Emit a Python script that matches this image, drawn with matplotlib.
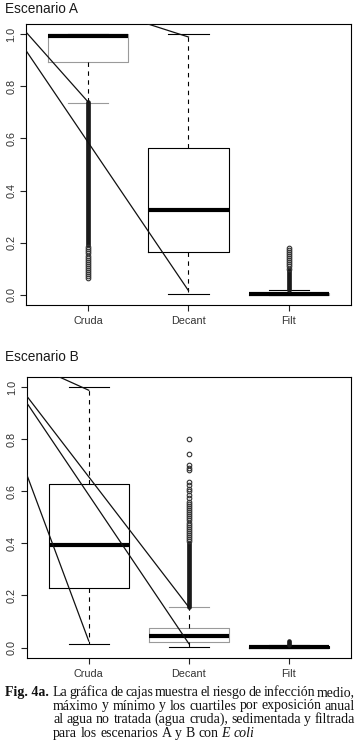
import matplotlib
matplotlib.use("Agg")
import matplotlib.pyplot as plt

W, H = 357, 753

groups = ["Cruda", "Decant", "Filt"]
yticks = [0.0, 0.2, 0.4, 0.6, 0.8, 1.0]

# box stats per scenario: (whislo, q1, med, q3, whishi)
stats_a = [
    (0.735, 0.893, 0.995, 1.0, 1.0),
    (0.003, 0.165, 0.325, 0.565, 1.0),
    (0.0, 0.0, 0.003, 0.006, 0.017),
]
stats_b = [
    (0.015, 0.23, 0.393, 0.627, 1.0),
    (0.003, 0.02, 0.043, 0.077, 0.155),
    (0.0, 0.0, 0.003, 0.006, 0.010),
]

# dense outlier columns (low, high) and sparse outliers
dense_a = [(0.19, 0.74), None, (0.017, 0.095)]
sparse_a = [
    [0.062, 0.07, 0.078, 0.086, 0.094, 0.102, 0.11, 0.118, 0.126, 0.134,
     0.142, 0.15, 0.158, 0.166, 0.174, 0.182],
    [],
    [0.10, 0.108, 0.116, 0.124, 0.132, 0.14, 0.148, 0.156, 0.164, 0.172, 0.18],
]
dense_b = [None, (0.155, 0.40), (0.008, 0.025)]
sparse_b = [
    [],
    [0.408, 0.416, 0.424, 0.432, 0.44, 0.448, 0.456, 0.464, 0.472, 0.48,
     0.488, 0.496, 0.504, 0.512, 0.52, 0.528, 0.536, 0.544, 0.552, 0.56,
     0.575, 0.585, 0.6, 0.61, 0.625, 0.635, 0.68, 0.69, 0.70, 0.745, 0.80],
    [],
]

# gray parts (box edge / lower cap / upper cap)
gray_a = [(True, True, False), (False, False, False), (True, False, False)]
gray_b = [(False, False, False), (True, False, True), (False, False, False)]

# pointer lines drawn over the plots: (x0, y0, x1, y1)
pointers_a = [(0.38, 1.009, 1.0, 0.74), (0.38, 0.938, 2.0, 0.015), (1.596, 1.04, 2.0, 0.99)]
pointers_b = [(0.70, 1.04, 1.0, 0.988), (0.38, 0.966, 2.0, 0.155),
              (0.38, 0.94, 2.0, 0.015), (0.38, 0.665, 1.0, 0.025)]

titles = ["Escenario A", "Escenario B"]

GRAY = "#9a9a9a"

plt.rcParams["font.family"] = ["Liberation Sans", "DejaVu Sans"]
fig = plt.figure(figsize=(W / 100, H / 100), dpi=100)


def px_axes(left, top, right, bottom):
    return fig.add_axes([left / W, 1 - bottom / H, (right - left) / W, (bottom - top) / H])


def draw_panel(ax, stats, dense, sparse, grays, pointers, title, ytitle):
    for i, (lo, q1, med, q3, hi) in enumerate(stats):
        g_box, g_lo, g_hi = grays[i]
        st = dict(whislo=lo, q1=q1, med=med, q3=q3, whishi=hi, fliers=[])
        art = ax.bxp([st], positions=[i + 1], widths=0.8, capwidths=0.4,
                     showfliers=False, patch_artist=False,
                     boxprops=dict(color=GRAY if g_box else "black", lw=0.8),
                     medianprops=dict(color="black", lw=3.0, solid_capstyle="butt"),
                     whiskerprops=dict(color="black", lw=0.8, linestyle=(0, (4, 4))),
                     capprops=dict(color="black", lw=0.8))
        if g_lo:
            art["caps"][0].set_color(GRAY)
        if g_hi:
            art["caps"][1].set_color(GRAY)
        if dense[i] is not None:
            ax.vlines(i + 1, dense[i][0], dense[i][1], colors="#1a1a1a", lw=3.4,
                      capstyle="round", zorder=3)
        if sparse[i]:
            ax.plot([i + 1] * len(sparse[i]), sparse[i], "o", ms=3.3, mfc="none",
                    mec="#333333", mew=0.8, zorder=3)
    for x0, y0, x1, y1 in pointers:
        ax.plot([x0, x1], [y0, y1], color="#111111", lw=0.9, zorder=4)
    ax.set_xlim(0.38, 3.62)
    ax.set_ylim(-0.04, 1.04)
    ax.set_xticks([1, 2, 3], groups)
    ax.set_yticks(yticks, [f"{v:.1f}" for v in yticks])
    for lab in ax.get_yticklabels():
        lab.set_rotation(90)
        lab.set_va("center")
    ax.tick_params(length=4, width=0.8, color="#222222", labelsize=7.8,
                   labelcolor="#333333", pad=3)
    ax.tick_params(axis="x", pad=4)
    for s in ax.spines.values():
        s.set_linewidth(0.8)
    fig.text(5 / W, 1 - ytitle / H, title, fontsize=9.8, va="center", ha="left",
             color="#1a1a1a")


ax_a = px_axes(26, 24, 351, 305)
draw_panel(ax_a, stats_a, dense_a, sparse_a, gray_a, pointers_a, titles[0], 9)
ax_b = px_axes(26.7, 376.7, 351, 658)
draw_panel(ax_b, stats_b, dense_b, sparse_b, gray_b, pointers_b, titles[1], 356.7)

# caption
cap_lines = [
    "La gráfica de cajas muestra el riesgo de infección medio,",
    "máximo y mínimo y los cuartiles por exposición anual",
    "al agua no tratada (agua cruda), sedimentada y filtrada",
]
cap_last = ["para", "los", "escenarios", "A", "y", "B", "con"]
cap_italic = "E coli"
baselines = [696, 709.5, 723.3, 736.7]
CAP_FONT = dict(family=["Liberation Serif", "DejaVu Serif"], fontsize=10.0, color="#111111")

renderer = fig.canvas.get_renderer()


def place_words(words, x0, y, x1=None, styles=None):
    texts = []
    for k, w in enumerate(words):
        st = styles[k] if styles else "normal"
        texts.append(fig.text(0, 1 - y / H, w, va="baseline", ha="left",
                              style=st, **CAP_FONT))
    widths = [t.get_window_extent(renderer).width for t in texts]
    if x1 is None:
        sp = fig.text(0, 0, "a a", **CAP_FONT)
        sa = fig.text(0, 0, "aa", **CAP_FONT)
        gap = sp.get_window_extent(renderer).width - sa.get_window_extent(renderer).width
        sp.remove()
        sa.remove()
    else:
        gap = (x1 - x0 - sum(widths)) / (len(words) - 1)
    x = x0
    for t, w in zip(texts, widths):
        t.set_x(x / W)
        x += w + gap


fig.text(5 / W, 1 - baselines[0] / H, "Fig. 4a.", va="baseline", ha="left",
         fontweight="bold", **CAP_FONT)
for line, yb in zip(cap_lines, baselines[:3]):
    place_words(line.split(), 53, yb, 355)
place_words(cap_last + cap_italic.split(), 53, baselines[3],
            styles=["normal"] * len(cap_last) + ["italic", "italic"])

fig.savefig("out.png", dpi=100)
